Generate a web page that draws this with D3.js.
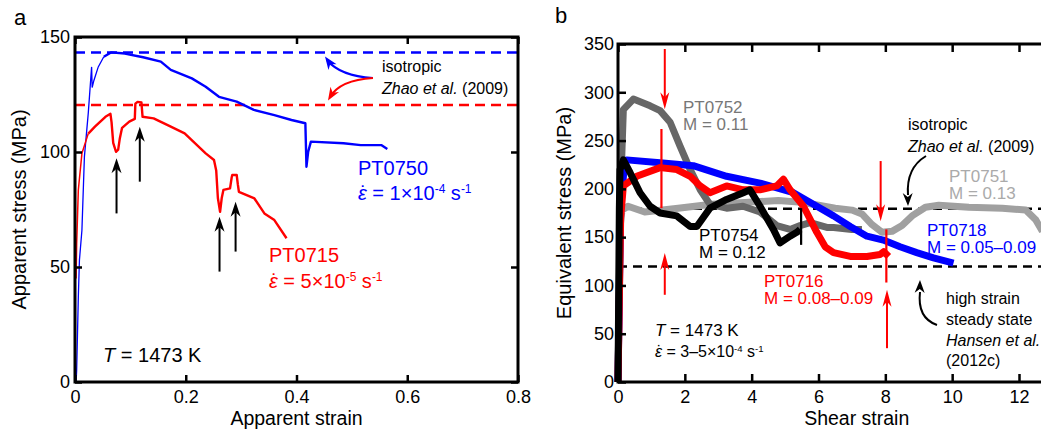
<!DOCTYPE html>
<html><head><meta charset="utf-8">
<script src="https://cdn.jsdelivr.net/npm/d3@7"></script>
<style>
body{margin:0;background:#fff}
svg{display:block}
text{font-family:"Liberation Sans",Arial,Helvetica,sans-serif}
</style>
</head><body>
<svg id="c" width="1041" height="433"></svg>
<script>
// ---------------- DATA ----------------
// Panel a: apparent strain vs apparent stress (MPa)
const pt0750 = [[0.002,0],[0.003,5],[0.006,37],[0.008,53],[0.0125,66],[0.017,98],[0.024,117],[0.03,137],[0.031,128],[0.034,131],[0.042,137],[0.052,141.4],
  [0.065,143.3],[0.09,142.8],[0.123,141.2],[0.155,139.3],[0.173,135.7],[0.211,132],[0.236,128.4],[0.26,124],[0.292,121.9],[0.323,118.3],
  [0.36,116],[0.391,113.9],[0.416,112.5],[0.418,93.6],[0.421,100],[0.426,104.5],[0.485,103.8],[0.516,103],[0.553,103],[0.564,101.3]];
const pt0715 = [[0.002,45],[0.003,60],[0.006,83.5],[0.0125,99.4],[0.024,108],[0.036,111],[0.055,115.3],[0.064,116.6],[0.066,113],[0.069,104],
  [0.074,100.1],[0.078,101],[0.081,106],[0.085,110.5],[0.098,113.2],[0.108,114.4],[0.109,121],[0.113,121.8],[0.12,121.5],[0.122,115.3],
  [0.142,114.6],[0.173,111],[0.198,108.1],[0.236,99.4],[0.251,96.5],[0.255,92],[0.258,80],[0.262,74],[0.265,80],[0.268,83.5],[0.28,84.2],
  [0.283,89],[0.284,90],[0.292,90],[0.294,86],[0.296,82.7],[0.324,79.8],[0.342,73.3],[0.36,70.4],[0.382,62.5]];
const aIsoLevels = [143.3, 120.4];            // isotropic, Zhao et al. (2009)
const aArrows = [[0.075,73.3,97.3],[0.117,87.1,111],[0.261,48,71.9],[0.290,56.7,78.4]]; // x, from, to
const aXTicks = [0,0.2,0.4,0.6,0.8];
const aYTicks = [0,50,100,150];

// Panel b: shear strain vs equivalent stress (MPa)
const pt0751 = [[0,0],[0.06,160],[0.12,178],[0.3,182],[0.8,176],[1.8,180],[2.8,184],[3.8,186],[4.8,188],[5.5,186],[6,183],[6.5,180],[7.0,178],
  [7.3,174],[7.6,163],[7.9,155],[8.2,156],[8.5,162],[8.8,172],[9.2,181],[9.6,183],[10.5,181],[11.5,180],[12.2,178],[12.5,168],[12.7,156]];
const pt0752 = [[0,0],[0.08,200],[0.16,282],[0.46,293],[0.96,286],[1.26,281],[1.56,269],[1.86,244],[2.16,220],[2.46,199],[2.75,184],[3.25,180],
  [3.74,182],[4.25,176],[4.75,162],[5.15,158],[5.45,162],[5.75,165],[6.25,160],[6.45,160],[7.0,158],[7.3,158]];
const pt0718 = [[0,0],[0.08,180],[0.2,228],[0.26,230],[1.26,227],[2.25,224],[3.25,213],[4.25,206],[5.25,196],[5.95,182],[6.45,172],[6.95,161],
  [7.45,151],[7.94,147],[8.44,140],[8.94,134],[9.44,128.5],[10.04,123]];
const pt0716 = [[0,0],[0.08,170],[0.16,203],[0.56,213],[1.26,222],[1.76,220],[2.16,213],[2.46,203],[2.75,196],
  [3.25,203],[3.75,199],[4.25,199],[4.75,203],[4.95,210],[5.15,199],[5.55,182],[5.95,155],[6.2,140],[6.45,134],[6.95,130],[7.45,130],
  [7.84,132],[7.95,135],[8.1,130]];
const pt0716Spikes = [[1.3,180,262],[8.03,103,158]];   // x, low, high
const pt0754 = [[0,0],[0.04,180],[0.06,220],[0.16,230],[0.36,217],[0.66,196],[0.96,182],[1.26,175],[1.76,172],[2.16,161],[2.36,161],[2.75,180],
  [3.25,189],[3.75,196],[3.95,199],[4.25,182],[4.65,158],[4.85,144],[5.15,151],[5.35,155],[5.45,158]];
const pt0754Spikes = [[5.48,142,180]];
const bRefLevels = [179.5, 119.5];
const bRedArrows = [[1.40,344.8,282.5],[1.40,90.3,133.6],[7.86,228.8,166.5],[8.05,35,95.5]];
const bXTicks = [0,2,4,6,8,10,12];
const bYTicks = [0,50,100,150,200,250,300,350];

// ---------------- DRAW ----------------
const svg = d3.select("#c");
const FONT = '"Liberation Sans",Arial,Helvetica,sans-serif';

const xA = d3.scaleLinear().domain([0,0.8]).range([75,518]);
const yA = d3.scaleLinear().domain([0,150]).range([382,37]);
const xB = d3.scaleLinear().domain([0,12]).range([618,1019]);
const yB = d3.scaleLinear().domain([0,350]).range([382,44]);

function styleAxis(g){
  g.select(".domain").remove();
  g.selectAll(".tick line").attr("stroke","#000").attr("stroke-width",2.5);
  g.selectAll("text").attr("font-family",FONT).attr("font-size",18).attr("fill","#000");
  g.attr("font-family",FONT);
}
function rich(g,x,y,size,color,parts,anchor){
  const t = g.append("text").attr("x",x).attr("y",y).attr("font-size",size).attr("fill",color)
    .attr("text-anchor",anchor||"start");
  parts.forEach(p=>{
    const s = t.append("tspan").text(p.t);
    if(p.i) s.attr("font-style","italic");
  });
  return t;
}
// strain-rate line: italic epsilon with a dot above (inline, one text element), then the value
function rateText(g,x,y,size,color,value,exp){
  const up = size*0.33;
  const t = g.append("text").attr("x",x).attr("y",y).attr("font-size",size).attr("fill",color);
  const e = t.append("tspan").attr("font-style","italic").text("\u03B5");
  const d = t.append("tspan").text("\u02D9");
  const r = t.append("tspan").text(" = "+value);
  t.append("tspan").attr("font-size",size*0.6).attr("dy",-up).text(exp);
  t.append("tspan").attr("dy",up).text(" s");
  t.append("tspan").attr("font-size",size*0.6).attr("dy",-up).text("-1");
  const ew = e.node().getComputedTextLength(), dw = d.node().getComputedTextLength();
  const dxDot = -(ew/2 + dw/2) + size*0.06;
  d.attr("dx", dxDot);
  r.attr("dx", -(dxDot + dw));
}
function head(g,tx,ty,fx,fy,len,hw,color){
  const a = Math.atan2(ty-fy, tx-fx);
  const ux=Math.cos(a), uy=Math.sin(a), px=-uy, py=ux;
  const bx=tx-ux*len, by=ty-uy*len, nx=tx-ux*len*0.7, ny=ty-uy*len*0.7;
  g.append("path").attr("d",`M${tx},${ty}L${bx+px*hw},${by+py*hw}L${nx},${ny}L${bx-px*hw},${by-py*hw}Z`).attr("fill",color);
}

// ---- Panel a ----
const gA = svg.append("g");
const lineA = d3.line().x(d=>xA(d[0])).y(d=>yA(d[1]));
aIsoLevels.forEach((v,i)=>{
  gA.append("line").attr("x1",xA(0)).attr("x2",xA(0.8)).attr("y1",yA(v)).attr("y2",yA(v))
    .attr("stroke", i===0?"#0000ff":"#ff0000").attr("stroke-width",2.5).attr("stroke-dasharray","10,6");
});
gA.append("path").attr("d",lineA(pt0750.slice(0,12))).attr("fill","none").attr("stroke","#0000ff").attr("stroke-width",1.3);
gA.append("path").attr("d",lineA(pt0750.slice(11))).attr("fill","none").attr("stroke","#0000ff").attr("stroke-width",2.4).attr("stroke-linejoin","round");
gA.append("path").attr("d",lineA(pt0715.slice(0,5))).attr("fill","none").attr("stroke","#ff0000").attr("stroke-width",1.5);
gA.append("path").attr("d",lineA(pt0715.slice(4))).attr("fill","none").attr("stroke","#ff0000").attr("stroke-width",2.4).attr("stroke-linejoin","round");
aArrows.forEach(a=>{
  const x=xA(a[0]), y0=yA(a[1]), y1=yA(a[2]);
  gA.append("line").attr("x1",x).attr("x2",x).attr("y1",y0).attr("y2",y1+8).attr("stroke","#000").attr("stroke-width",2);
  head(gA,x,y1,x,y0,15,5,"#000");
});
// axes a
gA.append("g").attr("transform","translate(0,382)")
  .call(d3.axisBottom(xA).tickValues(aXTicks).tickSize(-7).tickPadding(8).tickFormat(d=>d===0?"0":d3.format(".1f")(d))).call(styleAxis);
gA.append("g").attr("transform","translate(0,37)").call(d3.axisTop(xA).tickValues(aXTicks).tickSize(-7).tickFormat("")).call(styleAxis);
gA.append("g").attr("transform","translate(75,0)").call(d3.axisLeft(yA).tickValues(aYTicks).tickSize(-7).tickPadding(5)).call(styleAxis);
gA.append("g").attr("transform","translate(518,0)").call(d3.axisRight(yA).tickValues(aYTicks).tickSize(-7).tickFormat("")).call(styleAxis);
gA.append("rect").attr("x",75).attr("y",37).attr("width",443).attr("height",345).attr("fill","none").attr("stroke","#000").attr("stroke-width",3);
// curved arrows a
gA.append("path").attr("d","M373,78 Q340,76 327,60").attr("fill","none").attr("stroke","#0000ff").attr("stroke-width",2);
head(gA,325,56.5,336,72,13,5,"#0000ff");
gA.append("path").attr("d","M373,78 Q340,80 330,97").attr("fill","none").attr("stroke","#ff0000").attr("stroke-width",2);
head(gA,328,100.5,338,84,13,5,"#ff0000");
// texts a
gA.append("text").attr("x",14).attr("y",25).attr("font-size",22).text("a");
gA.append("text").attr("x",382).attr("y",72).attr("font-size",16).text("isotropic");
rich(gA,382,94,16,"#000",[{t:"Zhao et al.",i:1},{t:" (2009)"}]);
gA.append("text").attr("x",358).attr("y",175).attr("font-size",20).attr("fill","#0000ff").text("PT0750");
rateText(gA,358,200,20,"#0000ff","1\u00D710","-4");
gA.append("text").attr("x",269).attr("y",262).attr("font-size",20).attr("fill","#ff0000").text("PT0715");
rateText(gA,269,288,20,"#ff0000","5\u00D710","-5");
rich(gA,103,362,20,"#000",[{t:"T",i:1},{t:" = 1473 K"}]);
gA.append("text").attr("x",296.5).attr("y",425).attr("font-size",19.5).attr("text-anchor","middle").text("Apparent strain");
gA.append("text").attr("transform","translate(26,209.5) rotate(-90)").attr("font-size",20).attr("text-anchor","middle").text("Apparent stress (MPa)");

// ---- Panel b ----
const gB = svg.append("g");
const lineB = d3.line().x(d=>xB(d[0])).y(d=>yB(d[1]));
bRefLevels.forEach(v=>{
  gB.append("line").attr("x1",xB(0)).attr("x2",1045).attr("y1",yB(v)).attr("y2",yB(v))
    .attr("stroke","#000").attr("stroke-width",2.5).attr("stroke-dasharray","9,6");
});
[[pt0751,"#a0a0a0"],[pt0752,"#676767"],[pt0718,"#0000ff"],[pt0716,"#ff0000"],[pt0754,"#000000"]].forEach(s=>{
  gB.append("path").attr("d",lineB(s[0])).attr("fill","none").attr("stroke",s[1]).attr("stroke-width",7)
    .attr("stroke-linejoin","round");
});
[[pt0716Spikes,"#ff0000"],[pt0754Spikes,"#000"]].forEach(s=>{
  s[0].forEach(p=>{
    gB.append("line").attr("x1",xB(p[0])).attr("x2",xB(p[0])).attr("y1",yB(p[1])).attr("y2",yB(p[2]))
      .attr("stroke",s[1]).attr("stroke-width",2.2);
  });
});
bRedArrows.forEach(a=>{
  const x=xB(a[0]), y0=yB(a[1]), y1=yB(a[2]);
  const dir = y1>y0 ? 1 : -1;
  gB.append("line").attr("x1",x).attr("x2",x).attr("y1",y0).attr("y2",y1-dir*10).attr("stroke","#ff0000").attr("stroke-width",2);
  head(gB,x,y1,x,y0,17,4.5,"#ff0000");
});
gB.append("g").attr("transform","translate(0,382)")
  .call(d3.axisBottom(xB).tickValues(bXTicks).tickSize(-8).tickPadding(8).tickFormat(d3.format("d"))).call(styleAxis);
gB.append("g").attr("transform","translate(0,44)").call(d3.axisTop(xB).tickValues(bXTicks).tickSize(-8).tickFormat("")).call(styleAxis);
gB.append("g").attr("transform","translate(618,0)").call(d3.axisLeft(yB).tickValues(bYTicks).tickSize(-8).tickPadding(4)).call(styleAxis);
gB.append("path").attr("d","M1045,44 H618 V382 H1045").attr("fill","none").attr("stroke","#000").attr("stroke-width",3);
// curved arrows b
gB.append("path").attr("d","M926,156 Q906,168 908,195").attr("fill","none").attr("stroke","#000").attr("stroke-width",2);
head(gB,908,206,907.5,185,13,5,"#000");
gB.append("path").attr("d","M937,325 Q917,318 920,292").attr("fill","none").attr("stroke","#000").attr("stroke-width",2);
head(gB,920,280,919.5,300,13,5,"#000");
// texts b
gB.append("text").attr("x",555).attr("y",23).attr("font-size",22).text("b");
gB.append("text").attr("x",683).attr("y",113).attr("font-size",17).attr("fill","#777").text("PT0752");
gB.append("text").attr("x",683).attr("y",130).attr("font-size",17).attr("fill","#777").text("M = 0.11");
gB.append("text").attr("x",908).attr("y",130).attr("font-size",16).text("isotropic");
rich(gB,908,152,16,"#000",[{t:"Zhao et al.",i:1},{t:" (2009)"}]);
gB.append("text").attr("x",949).attr("y",182).attr("font-size",17).attr("fill","#aaa").text("PT0751");
gB.append("text").attr("x",949).attr("y",199).attr("font-size",17).attr("fill","#aaa").text("M = 0.13");
gB.append("text").attr("x",699).attr("y",241).attr("font-size",17).text("PT0754");
gB.append("text").attr("x",699).attr("y",258).attr("font-size",17).text("M = 0.12");
gB.append("text").attr("x",927).attr("y",236).attr("font-size",17).attr("fill","#0000ff").text("PT0718");
gB.append("text").attr("x",927).attr("y",253).attr("font-size",17).attr("fill","#0000ff").text("M = 0.05\u20130.09");
gB.append("text").attr("x",764).attr("y",287).attr("font-size",17).attr("fill","#ff0000").text("PT0716");
gB.append("text").attr("x",764).attr("y",304).attr("font-size",17).attr("fill","#ff0000").text("M = 0.08\u20130.09");
gB.append("text").attr("x",946).attr("y",304).attr("font-size",16).text("high strain");
gB.append("text").attr("x",946).attr("y",325).attr("font-size",16).text("steady state");
gB.append("text").attr("x",946).attr("y",346).attr("font-size",16).attr("font-style","italic").text("Hansen et al.");
gB.append("text").attr("x",946).attr("y",366).attr("font-size",16).text("(2012c)");
rich(gB,655,336,17,"#000",[{t:"T",i:1},{t:" = 1473 K"}]);
rateText(gB,655,357,16,"#000","3\u20135\u00D710","-4");
gB.append("text").attr("x",856.7).attr("y",425).attr("font-size",19.5).attr("text-anchor","middle").text("Shear strain");
gB.append("text").attr("transform","translate(571,213) rotate(-90)").attr("font-size",20).attr("text-anchor","middle").text("Equivalent stress (MPa)");
</script>
</body></html>
